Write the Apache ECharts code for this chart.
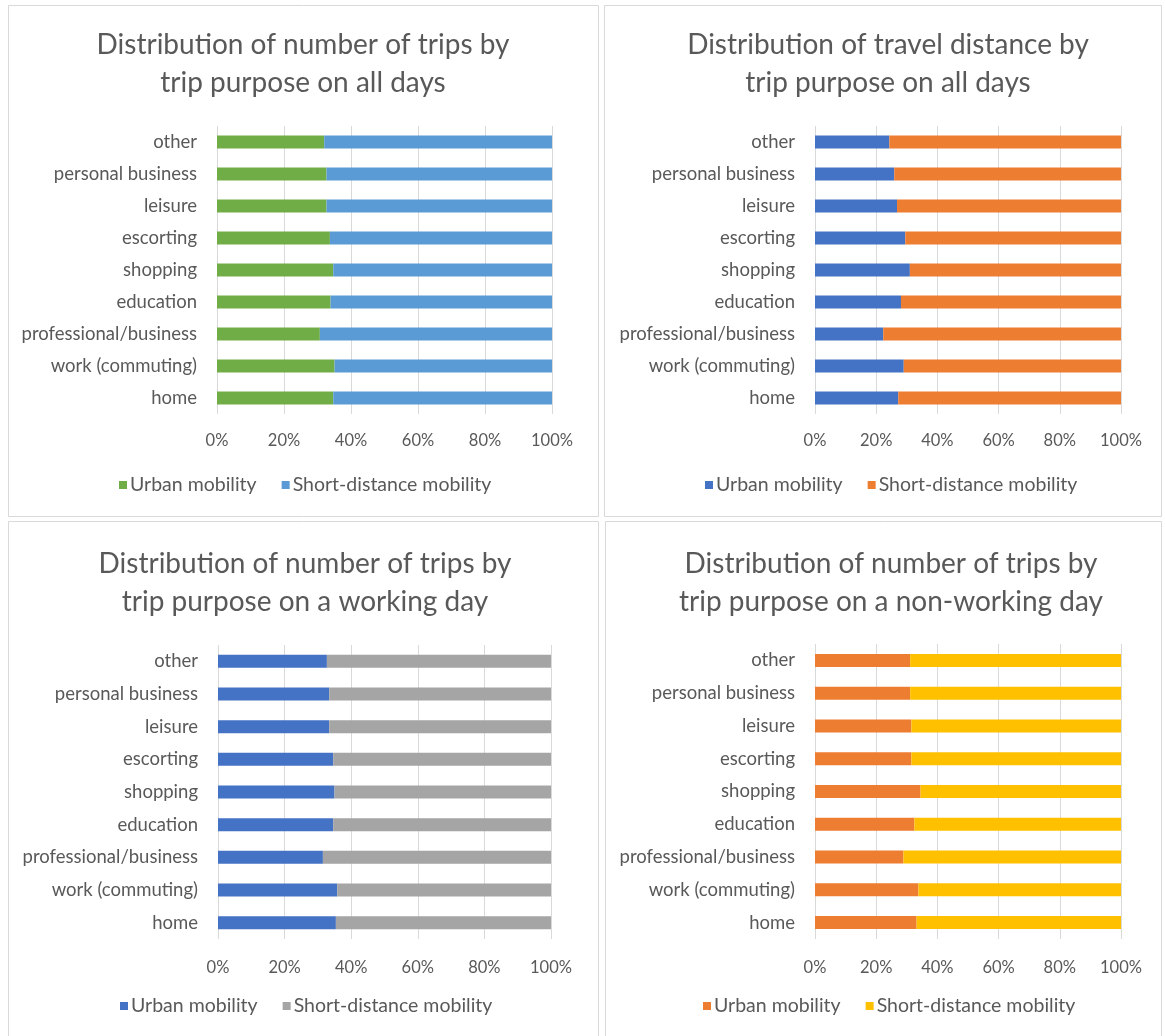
<!DOCTYPE html>
<html>
<head>
<meta charset="utf-8">
<script src="https://cdn.jsdelivr.net/npm/echarts@6/dist/echarts.min.js"></script>
<style>
html,body{margin:0;padding:0;background:#fff;}
#c{width:1165px;height:1036px;}
</style>
</head>
<body>
<div id="c"></div>
<script>
// Categories (bottom to top as drawn by the category axis)
const categories = ['home','work (commuting)','professional/business','education','shopping','escorting','leisure','personal business','other'];
const xTicks = ['0%','20%','40%','60%','80%','100%'];
const seriesNames = ['Urban mobility','Short-distance mobility'];

const titles = [
  'Distribution of number of trips by\ntrip purpose on all days',
  'Distribution of travel distance by\ntrip purpose on all days',
  'Distribution of number of trips by\ntrip purpose on a working day',
  'Distribution of number of trips by\ntrip purpose on a non-working day'
];

// Panel 1: trips, all days
const tripsAllUrban = [34.7, 35.1, 30.7, 33.9, 34.7, 33.7, 32.7, 32.7, 32.0];
const tripsAllShort = [65.3, 64.9, 69.3, 66.1, 65.3, 66.3, 67.3, 67.3, 68.0];
// Panel 2: distance, all days
const distAllUrban = [27.2, 29.0, 22.3, 28.1, 31.0, 29.5, 26.8, 25.9, 24.3];
const distAllShort = [72.8, 71.0, 77.7, 71.9, 69.0, 70.5, 73.2, 74.1, 75.7];
// Panel 3: trips, working day
const tripsWorkUrban = [35.4, 35.8, 31.5, 34.6, 35.0, 34.6, 33.4, 33.4, 32.7];
const tripsWorkShort = [64.6, 64.2, 68.5, 65.4, 65.0, 65.4, 66.6, 66.6, 67.3];
// Panel 4: trips, non-working day
const tripsNonWorkUrban = [33.2, 33.8, 28.9, 32.5, 34.5, 31.5, 31.5, 31.1, 31.1];
const tripsNonWorkShort = [66.8, 66.2, 71.1, 67.5, 65.5, 68.5, 68.5, 68.9, 68.9];

const panelData = [
  [tripsAllUrban, tripsAllShort],
  [distAllUrban, distAllShort],
  [tripsWorkUrban, tripsWorkShort],
  [tripsNonWorkUrban, tripsNonWorkShort]
];
const colors = [
  ['#70ad47','#5b9bd5'],
  ['#4472c4','#ed7d31'],
  ['#4472c4','#a5a5a5'],
  ['#ed7d31','#ffc000']
];

const FONT = 'Lato';
const TXT = '#595959';

const panels = [
  {box:[8,5,590,511],  grid:{left:217,top:126,width:335,height:288}, cx:298, titleTop:21,  legendLeft:119, legendTop:475, labelMargin:18},
  {box:[604,5,557,511],grid:{left:815,top:126,width:306,height:288}, cx:883, titleTop:21,  legendLeft:705, legendTop:475, labelMargin:18},
  {box:[8,521,590,530],grid:{left:218,top:645,width:333,height:294}, cx:300, titleTop:540, legendLeft:120, legendTop:996, labelMargin:20},
  {box:[605,521,556,530],grid:{left:815,top:644,width:306,height:295}, cx:886, titleTop:540, legendLeft:703, legendTop:996, labelMargin:20}
];

const option = {
  backgroundColor:'#ffffff',
  animation:false,
  graphic: panels.map(p => ({
    type:'rect', silent:true, z:-10,
    shape:{x:p.box[0]+0.5,y:p.box[1]+0.5,width:p.box[2],height:p.box[3]},
    style:{fill:'#ffffff',stroke:'#d9d9d9',lineWidth:1}
  })),
  title: panels.map((p,i) => ({
    text:titles[i], left:p.cx, top:p.titleTop, textAlign:'center',
    textStyle:{fontFamily:FONT,fontSize:28,fontWeight:'normal',color:TXT,lineHeight:38}
  })),
  legend: panels.map((p,i) => ({
    data: seriesNames.map(n => 'p'+i+'|'+n),
    formatter: name => name.split('|')[1],
    left:p.legendLeft, top:p.legendTop, width:520, padding:0,
    icon:'rect', itemWidth:8, itemHeight:8, itemGap:25, selectedMode:false,
    textStyle:{fontFamily:FONT,fontSize:19.5,color:TXT,padding:[0,0,0,-2]}
  })),
  grid: panels.map(p => Object.assign({containLabel:false}, p.grid)),
  xAxis: panels.map((p,i) => ({
    type:'value', gridIndex:i, min:0, max:100, interval:20,
    axisLine:{show:false}, axisTick:{show:false},
    splitLine:{show:true,lineStyle:{color:'#d9d9d9',width:1}},
    axisLabel:{fontFamily:FONT,fontSize:16.5,color:TXT,margin:p.labelMargin,
      formatter: v => xTicks[Math.round(v/20)]}
  })),
  yAxis: panels.map((p,i) => ({
    type:'category', gridIndex:i, data:categories,
    axisLine:{show:false}, axisTick:{show:false},
    axisLabel:{fontFamily:FONT,fontSize:18.5,color:TXT,margin:20}
  })),
  series: []
};

panels.forEach((p,i) => {
  seriesNames.forEach((n,k) => {
    option.series.push({
      type:'bar', name:'p'+i+'|'+n, xAxisIndex:i, yAxisIndex:i,
      stack:'s'+i, data:panelData[i][k], barWidth:13,
      itemStyle:{color:colors[i][k]}
    });
  });
});

const chart = echarts.init(document.getElementById('c'), null, {renderer:'canvas'});
chart.setOption(option);
</script>
</body>
</html>
